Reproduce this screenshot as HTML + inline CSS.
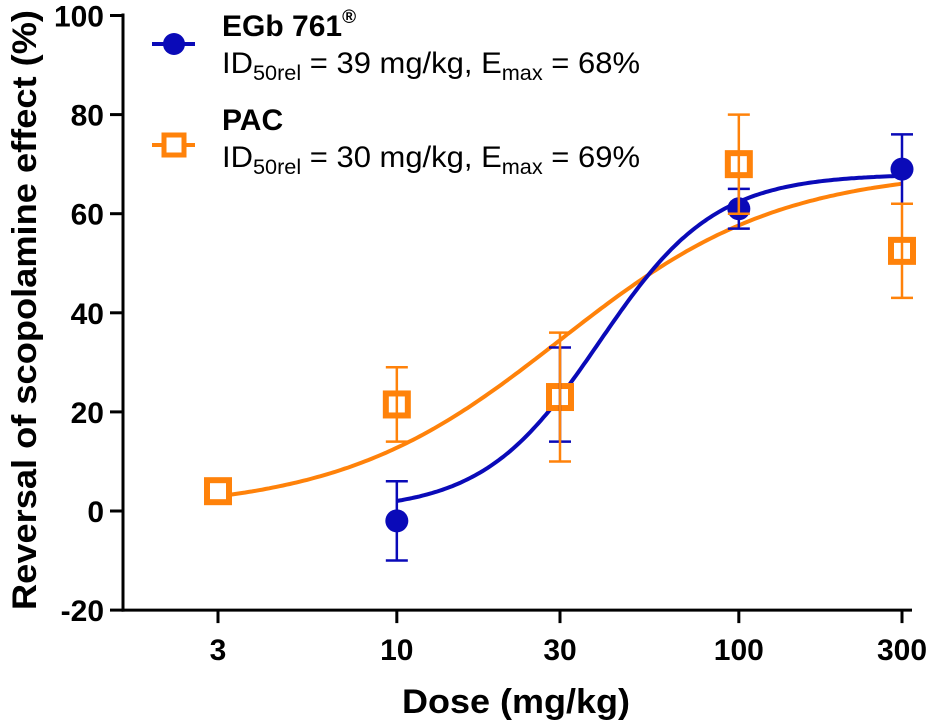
<!DOCTYPE html>
<html><head><meta charset="utf-8"><style>
html,body{margin:0;padding:0;background:#fff;}
svg{display:block;font-family:"Liberation Sans",Arial,sans-serif;}
</style></head><body>
<svg id="chart" width="931" height="725" viewBox="0 0 931 725">
<g id="axes"></g><g id="curves"></g><g id="marks"></g>
<g id="legend">
 <g>
  <line x1="152" y1="44" x2="195" y2="44" stroke="#0a0ab8" stroke-width="4"/>
  <circle cx="174" cy="44" r="11" fill="#0a0ab8"/>
  <text x="222" y="36" font-size="30" font-weight="bold">EGb 761<tspan font-size="19" dy="-13">®</tspan></text>
  <text x="222" y="73" font-size="30" textLength="418" lengthAdjust="spacingAndGlyphs">ID<tspan font-size="21" dy="7">50rel</tspan><tspan dy="-7"> = 39 mg/kg, E</tspan><tspan font-size="21" dy="7">max</tspan><tspan dy="-7"> = 68%</tspan></text>
 </g>
 <g>
  <line x1="152" y1="145" x2="195" y2="145" stroke="#ff820a" stroke-width="4"/>
  <rect x="164" y="135" width="20" height="20" fill="#fff" stroke="#ff820a" stroke-width="5"/>
  <text x="222" y="130" font-size="30" font-weight="bold">PAC</text>
  <text x="222" y="167" font-size="30" textLength="418" lengthAdjust="spacingAndGlyphs">ID<tspan font-size="21" dy="7">50rel</tspan><tspan dy="-7"> = 30 mg/kg, E</tspan><tspan font-size="21" dy="7">max</tspan><tspan dy="-7"> = 69%</tspan></text>
 </g>
</g>
</svg>
<script>
const xTicks=[3,10,30,100,300];
const yTicks=[-20,0,20,40,60,80,100];
const egbDose=[10,30,100,300];
const egbMean=[-2,23,61,69];
const egbLow=[-10,14,57,62];
const egbHigh=[6,33,65,76];
const pacDose=[3,10,30,100,300];
const pacMean=[4,21.5,23,70,52.5];
const pacLow=[4,14,10,60,43];
const pacHigh=[4,29,36,80,62];
const egbFit=[39,68,2.56]; // ID50, Emax, Hill
const pacFit=[30,69,1.35];
const egbRange=[10,300];
const pacRange=[3,300];

const NS="http://www.w3.org/2000/svg";
const X=d=>218+342*(Math.log10(d)-Math.log10(3));
const Y=v=>511-4.955*v;
function mk(parent,tag,attrs){const e=document.createElementNS(NS,tag);for(const k in attrs)e.setAttribute(k,attrs[k]);document.getElementById(parent).appendChild(e);return e;}
const BLUE="#0a0ab8",ORANGE="#ff820a";

let a=mk('axes','line',{x1:123,y1:Y(100)-2,x2:123,y2:Y(-20)+1.5,stroke:'#000','stroke-width':3});


a=mk('axes','line',{x1:121.5,y1:Y(-20),x2:912,y2:Y(-20),stroke:'#000','stroke-width':3});


yTicks.forEach(v=>{
 mk('axes','line',{x1:110,y1:Y(v),x2:123,y2:Y(v),stroke:'#000','stroke-width':3});
 const t=mk('axes','text',{x:104,y:Y(v)+11,'text-anchor':'end','font-size':30,'font-weight':'bold'});
 t.textContent=v;
 
 
});
xTicks.forEach(v=>{
 mk('axes','line',{x1:X(v),y1:Y(-20),x2:X(v),y2:Y(-20)+13,stroke:'#000','stroke-width':3});
 const t=mk('axes','text',{x:X(v),y:660,'text-anchor':'middle','font-size':30,'font-weight':'bold'});
 t.textContent=v;
 
 
});
let t=mk('axes','text',{x:516,y:713,'text-anchor':'middle','font-size':34,'font-weight':'bold',textLength:228,lengthAdjust:'spacingAndGlyphs'});
t.textContent='Dose (mg/kg)';


t=mk('axes','text',{x:0,y:0,'text-anchor':'middle','font-size':34,'font-weight':'bold',transform:'translate(36,310) rotate(-90)',textLength:600,lengthAdjust:'spacingAndGlyphs'});
t.textContent='Reversal of scopolamine effect (%)';



function curve(fit,range,color,name){
 const [id,em,n]=fit;let d='';
 const l0=Math.log10(range[0]),l1=Math.log10(range[1]);
 for(let i=0;i<=200;i++){const x=Math.pow(10,l0+(l1-l0)*i/200);const r=Math.pow(x/id,n);const y=em*r/(1+r);d+=(i?'L':'M')+X(x).toFixed(1)+','+Y(y).toFixed(1);}
 const p=mk('curves','path',{d:d,fill:'none',stroke:color,'stroke-width':4});
 
 
}
curve(pacFit,pacRange,ORANGE,'pac-fit-curve');
curve(egbFit,egbRange,BLUE,'egb-fit-curve');

egbDose.forEach((d,i)=>{
 const c=mk('marks','circle',{cx:X(d),cy:Y(egbMean[i]),r:11.5,fill:BLUE});
 
 
});
pacDose.forEach((d,i)=>{
 const r=mk('marks','rect',{x:X(d)-11,y:Y(pacMean[i])-11,width:22,height:22,fill:'#fff',stroke:ORANGE,'stroke-width':6});
 
 
});
function errs(dose,lo,hi,color){
 dose.forEach((d,i)=>{if(lo[i]===hi[i])return;const x=X(d);
  const g=mk('marks','path',{d:`M${x},${Y(lo[i])}V${Y(hi[i])}M${x-11},${Y(lo[i])}H${x+11}M${x-11},${Y(hi[i])}H${x+11}`,stroke:color,'stroke-width':2.5,fill:'none'});
  
  
 });
}
errs(egbDose,egbLow,egbHigh,BLUE);
errs(pacDose,pacLow,pacHigh,ORANGE);
</script>
</body></html>
